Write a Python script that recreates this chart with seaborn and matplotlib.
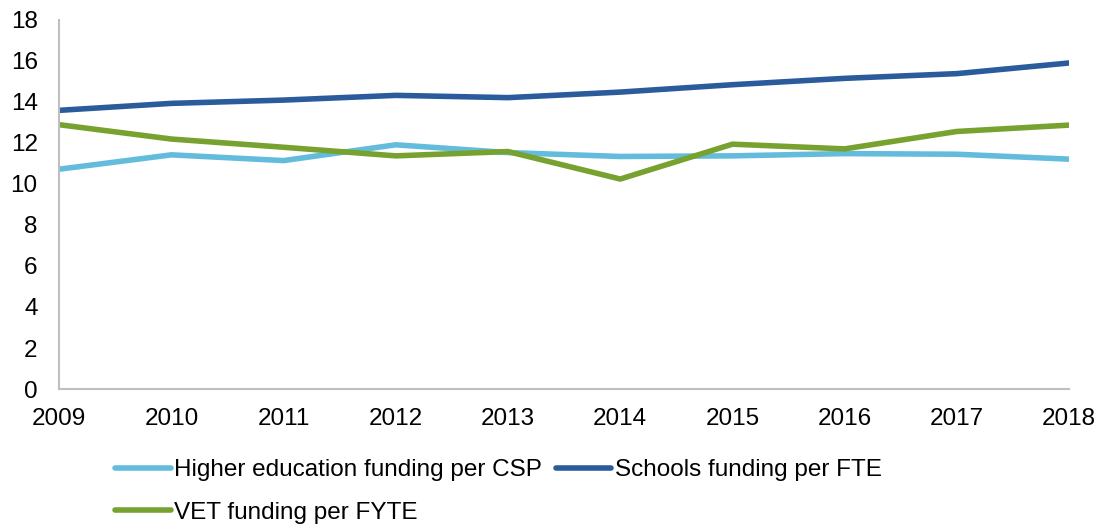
import matplotlib
matplotlib.use("Agg")
import matplotlib.pyplot as plt
import seaborn as sns
import pandas as pd

years = [2009, 2010, 2011, 2012, 2013, 2014, 2015, 2016, 2017, 2018]
higher_ed = [10.72, 11.42, 11.14, 11.91, 11.53, 11.34, 11.37, 11.48, 11.45, 11.21]
schools = [13.59, 13.93, 14.09, 14.32, 14.21, 14.48, 14.84, 15.15, 15.38, 15.90]
vet = [12.89, 12.19, 11.79, 11.37, 11.58, 10.24, 11.94, 11.71, 12.56, 12.87]
series_names = ["Higher education funding per CSP", "Schools funding per FTE", "VET funding per FYTE"]
colors = ["#64BCDD", "#2A5C9C", "#78A22F"]

df = pd.concat([
    pd.DataFrame({"Year": years, "Value": higher_ed, "Series": series_names[0]}),
    pd.DataFrame({"Year": years, "Value": schools, "Series": series_names[1]}),
    pd.DataFrame({"Year": years, "Value": vet, "Series": series_names[2]}),
])

sns.set_style("white")
plt.rcParams["font.family"] = ["Liberation Sans", "DejaVu Sans"]
plt.rcParams["text.color"] = "black"

fig = plt.figure(figsize=(10.97, 5.24), dpi=100)
ax = fig.add_axes([0.054, 0.2576, 0.9205, 0.7044])

sns.lineplot(data=df, x="Year", y="Value", hue="Series", hue_order=series_names,
             palette=colors, linewidth=4.0, ax=ax, legend=True)
for ln in ax.get_lines():
    ln.set_solid_capstyle("round")

ax.set_xlim(2009, 2018)
ax.set_ylim(0, 18)
ax.set_xticks(years)
ax.set_yticks(range(0, 19, 2))
ax.set_xlabel("")
ax.set_ylabel("")
for s in ["top", "right"]:
    ax.spines[s].set_visible(False)
for s in ["left", "bottom"]:
    ax.spines[s].set_color("#BFBFBF")
    ax.spines[s].set_linewidth(1.5)
ax.tick_params(axis="both", which="both", length=4.5, width=1.3, color="#BFBFBF",
               labelsize=17.5, labelcolor="black", direction="out")
ax.tick_params(axis="x", pad=9)
ax.tick_params(axis="y", pad=11)

handles, labels = ax.get_legend_handles_labels()
lookup = dict(zip(labels, handles))
order = [series_names[0], series_names[2], series_names[1]]  # column-major -> row-major display
for h in handles:
    h.set_solid_capstyle("round")
ax.legend([lookup[n] for n in order], order, ncol=2, loc="upper left",
          bbox_to_anchor=(0.055, -0.19), frameon=False, fontsize=17.5,
          handlelength=2.3, handletextpad=0.15, columnspacing=0.55,
          labelspacing=0.85, borderaxespad=0, borderpad=0, labelcolor="black")

fig.savefig("out.png", dpi=100)
